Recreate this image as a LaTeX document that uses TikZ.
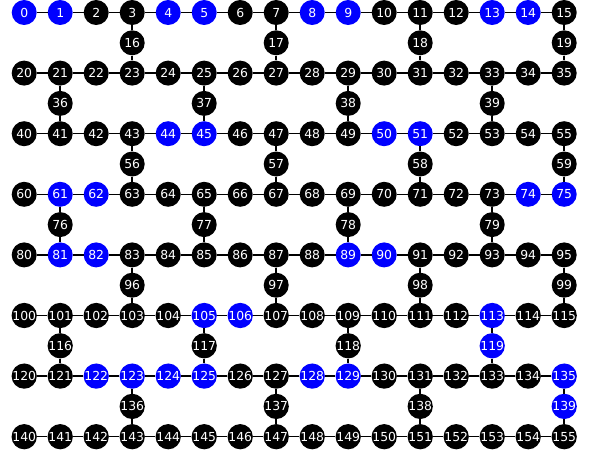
\documentclass[tikz,border=0pt]{standalone}
\usepackage{fontspec}
\setsansfont{DejaVu Sans}
\usetikzlibrary{calc}
\definecolor{QBblue}{HTML}{0000FF}
\definecolor{QBblack}{HTML}{000000}
% qubits drawn in blue
\foreach \b in {0,1,4,5,8,9,13,14,44,45,50,51,61,62,74,75,81,82,89,90,105,106,113,119,122,123,124,125,128,129,135,139}{%
  \expandafter\gdef\csname isblue\b\endcsname{}}
\tikzset{
  qubit/.style={circle, fill=QBblack, minimum size=25pt, inner sep=0pt, text=white, text height=9pt, text depth=0pt, font=\sffamily\fontsize{12.4}{13}\selectfont},
  marked/.style={qubit, fill=QBblue},
  qstyle/.code={\ifcsname isblue#1\endcsname\tikzset{marked}\else\tikzset{qubit}\fi},
  link/.style={line width=1.5pt, draw=QBblack}
}

\begin{document}
\begin{tikzpicture}[x=1pt,y=-1pt]
\useasboundingbox (0,0) rectangle (601,455);
% qubits in the rows
\foreach \r in {0,...,7}{
  \foreach \i in {0,...,15}{
    \pgfmathtruncatemacro{\n}{20*\r+\i}
    \node[qstyle=\n] (q\n) at ({24.2+36*\i},{12.5+60.6*\r}) {\n};
  }
}
% qubits between the rows
\foreach \r in {0,...,6}{
  \foreach \k in {0,...,3}{
    \pgfmathtruncatemacro{\n}{20*\r+16+\k}
    \pgfmathtruncatemacro{\col}{mod(\r,2)==0 ? 3+4*\k : 1+4*\k}
    \node[qstyle=\n] (q\n) at ({24.2+36*\col},{12.5+60.6*\r+30.3}) {\n};
  }
}
% row links
\foreach \r in {0,...,7}{
  \foreach \i in {0,...,14}{
    \pgfmathtruncatemacro{\na}{20*\r+\i}
    \pgfmathtruncatemacro{\nb}{\na+1}
    \draw[link] (q\na) -- (q\nb);
  }
}
% vertical links
\foreach \r in {0,...,6}{
  \foreach \k in {0,...,3}{
    \pgfmathtruncatemacro{\col}{mod(\r,2)==0 ? 3+4*\k : 1+4*\k}
    \pgfmathtruncatemacro{\qa}{20*\r+\col}
    \pgfmathtruncatemacro{\qm}{20*\r+16+\k}
    \pgfmathtruncatemacro{\qb}{20*(\r+1)+\col}
    \draw[link] (q\qa) -- (q\qm) -- (q\qb);
  }
}
\end{tikzpicture}
\end{document}
